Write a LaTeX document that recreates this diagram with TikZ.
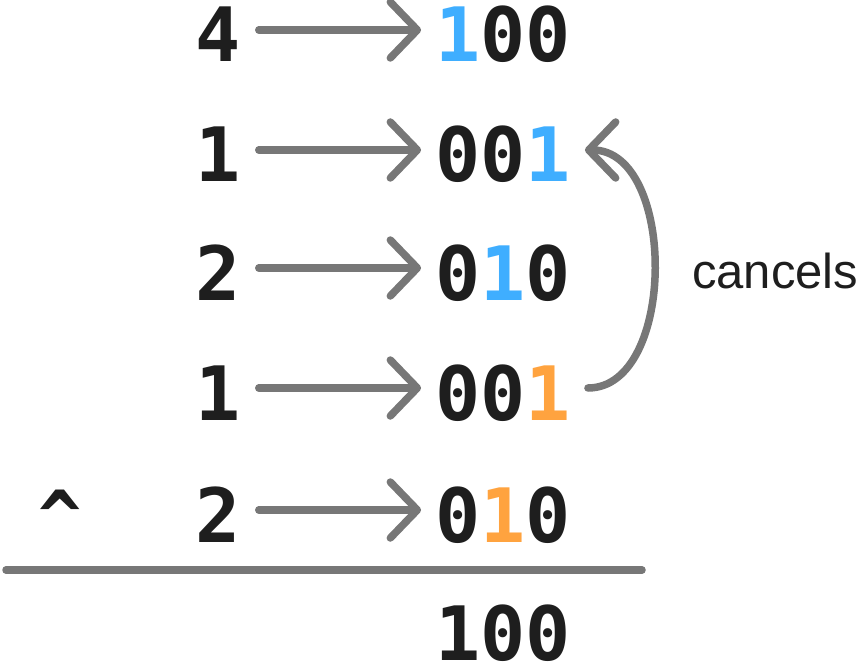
\documentclass[tikz,border=0pt]{standalone}
\usepackage{fontspec}
\setmainfont{Liberation Sans}
\newfontfamily\digitfont{DejaVu Sans Mono Bold}
\usetikzlibrary{arrows.meta}
\definecolor{ink}{HTML}{1E1E1E}
\definecolor{conn}{HTML}{777777}
\definecolor{bitblue}{HTML}{3FAEFF}
\definecolor{bitorange}{HTML}{FFA33F}
\newcommand{\bb}[1]{\textcolor{bitblue}{#1}}
\newcommand{\bo}[1]{\textcolor{bitorange}{#1}}
\tikzset{
  num/.style={inner sep=0pt, text height=64pt, text depth=0pt, text=ink,
    font=\digitfont\fontsize{75}{75}\selectfont},
  conarrow/.style={draw=conn, line width=7.5pt, line cap=round, line join=round,
    -{Straight Barb[length=27pt, width=56pt, line width=7.5pt, round]}},
  label/.style={inner sep=0pt, text=ink, font=\fontsize{49}{49}\selectfont},
}
\begin{document}
\begin{tikzpicture}[x=1pt,y=-1pt]
\useasboundingbox (0,0) rectangle (861,663);
% left column
\node[num] (l1) at (218,30) {4};
\node[num] (l2) at (218,150) {1};
\node[num] (l3) at (218,268) {2};
\node[num] (l4) at (218,388) {1};
\node[num] (l5) at (218,510) {2};
\node[num, font=\digitfont\fontsize{72}{72}\selectfont] (xor) at (60,510) {\^{}};
% right column
\node[num] (r1) at (503,30) {\bb{1}00};
\node[num] (r2) at (503,150) {00\bb{1}};
\node[num] (r3) at (503,268) {0\bb{1}0};
\node[num] (r4) at (503,388) {00\bo{1}};
\node[num] (r5) at (503,510) {0\bo{1}0};
\node[num] (res) at (503,628) {100};
% arrows
\foreach \i in {1,...,5}
  \draw[conarrow, shorten <=18pt, shorten >=14pt] (l\i.east) -- (r\i.west);
% cancel curve
\draw[conarrow, shorten <=17pt, shorten >=14pt]
  (r4.east) .. controls +(106,0) and +(106,0) .. (r2.east);
\node[label, anchor=base west] (cancels) at (692,288) {cancels};
% rule
\draw[conn, line width=7.5pt, line cap=round] (6,570) -- (642,570);
\end{tikzpicture}
\end{document}
